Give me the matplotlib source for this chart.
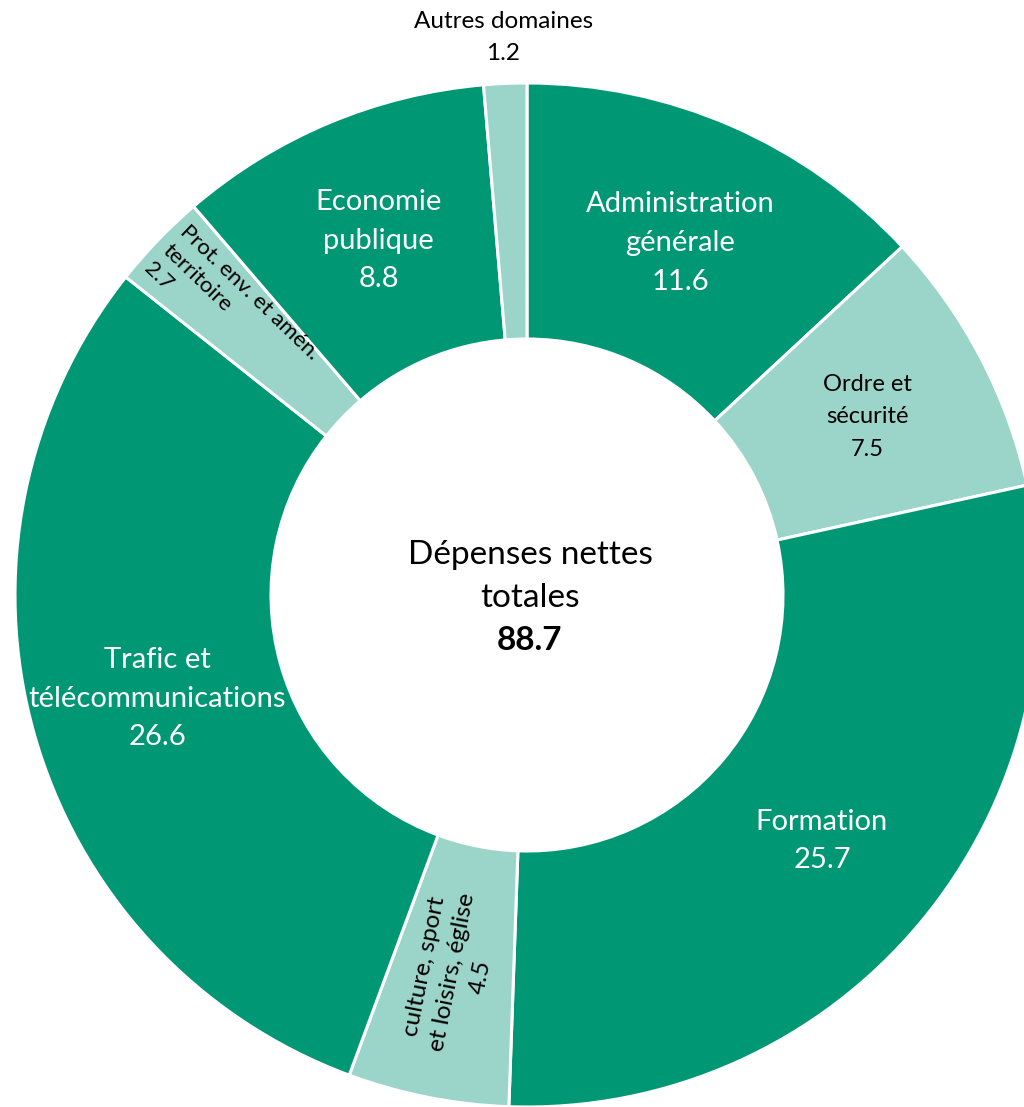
import matplotlib.pyplot as plt
import numpy as np

plt.rcParams["font.family"] = ["Lato", "DejaVu Sans"]

categories = [
    "Administration\ngénérale",
    "Ordre et\nsécurité",
    "Formation",
    "culture, sport\net loisirs, église",
    "Trafic et\ntélécommunications",
    "Prot. env. et amén.\nterritoire",
    "Economie\npublique",
    "Autres domaines",
]
values = [11.6, 7.5, 25.7, 4.5, 26.6, 2.7, 8.8, 1.2]
total_label = "88.7"

DARK = "#009874"
LIGHT = "#9bd4c8"
colors = [DARK, LIGHT, DARK, LIGHT, DARK, LIGHT, DARK, LIGHT]
text_colors = ["white", "black", "white", "black", "white", "black", "white", "black"]
font_sizes = [21, 17, 21, 17.5, 21, 16, 21, 17.5]
line_spacing = [1.6, 1.7, 1.6, 1.45, 1.6, 1.35, 1.6, 1.6]
label_radius = [0.75, 0.75, 0.75, 0.75, 0.75, 0.80, 0.75, 1.09]

fig = plt.figure(figsize=(10.24, 11.07), dpi=100)
ax = fig.add_axes([0, 0, 1, 1])

R = 512.0
cx, cy = 527.0, 595.0

wedges, _ = ax.pie(
    values,
    colors=colors,
    startangle=90,
    counterclock=False,
    radius=1.0,
    wedgeprops=dict(width=0.5, edgecolor="white", linewidth=2.2),
)

# labels at wedge mid-angles
total = sum(values)
cum = np.cumsum([0] + values[:-1])
for i, (cat, val) in enumerate(zip(categories, values)):
    mid = 90 - (cum[i] + val / 2) / total * 360
    rad = np.deg2rad(mid)
    r = label_radius[i]
    x, y = r * np.cos(rad), r * np.sin(rad)
    txt = f"{cat}\n{val}"
    rot = 0
    align = "center"
    if i == 3:
        rot = mid + 180
    elif i == 5:
        rot = mid - 180
        align = "left"
    ax.text(x, y, txt, ha="center", va="center", rotation=rot,
            rotation_mode="anchor", multialignment=align,
            color=text_colors[i], fontsize=font_sizes[i],
            linespacing=line_spacing[i])

# centre text
for line, py, weight in [("Dépenses nettes", 555, "normal"),
                         ("totales", 598, "normal"),
                         (total_label, 640, "bold")]:
    ax.text((530 - cx) / R, (cy - py) / R, line, ha="center", va="center",
            fontsize=24, fontweight=weight)

ax.set_xlim(-cx / R, (1024 - cx) / R)
ax.set_ylim(-(1107 - cy) / R, cy / R)
ax.axis("off")

plt.savefig("out.png", dpi=100)
plt.close()
